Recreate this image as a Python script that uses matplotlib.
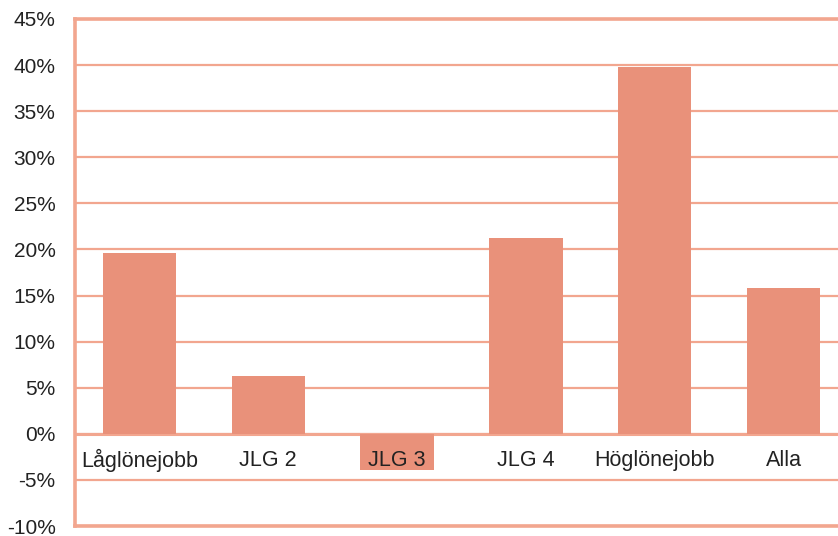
import matplotlib.pyplot as plt
import numpy as np

plt.rcParams['font.family'] = ['Liberation Sans', 'DejaVu Sans']

categories = ['Låglönejobb', 'JLG 2', 'JLG 3', 'JLG 4', 'Höglönejobb', 'Alla']
values = [19.6, 6.3, -3.9, 21.2, 39.8, 15.8]
yticks = np.arange(-10, 46, 5)

bar_color = '#E9917A'
line_color = '#F2A68F'

fig = plt.figure(figsize=(8.38, 5.36), dpi=100)
ax = fig.add_axes([75 / 838, 10 / 536, 773 / 838, 507 / 536])

x = np.arange(len(categories))
ax.bar(x, values, width=0.57, color=bar_color, zorder=3)

ax.set_xlim(-0.5, len(categories) - 0.5)
ax.set_ylim(-10, 45)
ax.set_yticks(yticks)
ax.set_yticklabels([f'{v}%' for v in yticks], fontsize=15, color='#222222')
ax.set_xticks([])
ax.tick_params(axis='y', length=0, pad=14)

ax.yaxis.grid(True, color=line_color, linewidth=1.6, zorder=0)
ax.axhline(0, color=line_color, linewidth=2.2, zorder=2)
for side in ['left', 'bottom', 'top']:
    ax.spines[side].set_color(line_color)
    ax.spines[side].set_linewidth(2.6)
ax.spines['right'].set_visible(False)

for xi, name in zip(x, categories):
    ax.annotate(name, (xi, 0), xytext=(0, -19), textcoords='offset points',
                ha='center', va='center', fontsize=15.5, color='#222222', zorder=4)

fig.savefig('out.png', dpi=100)
